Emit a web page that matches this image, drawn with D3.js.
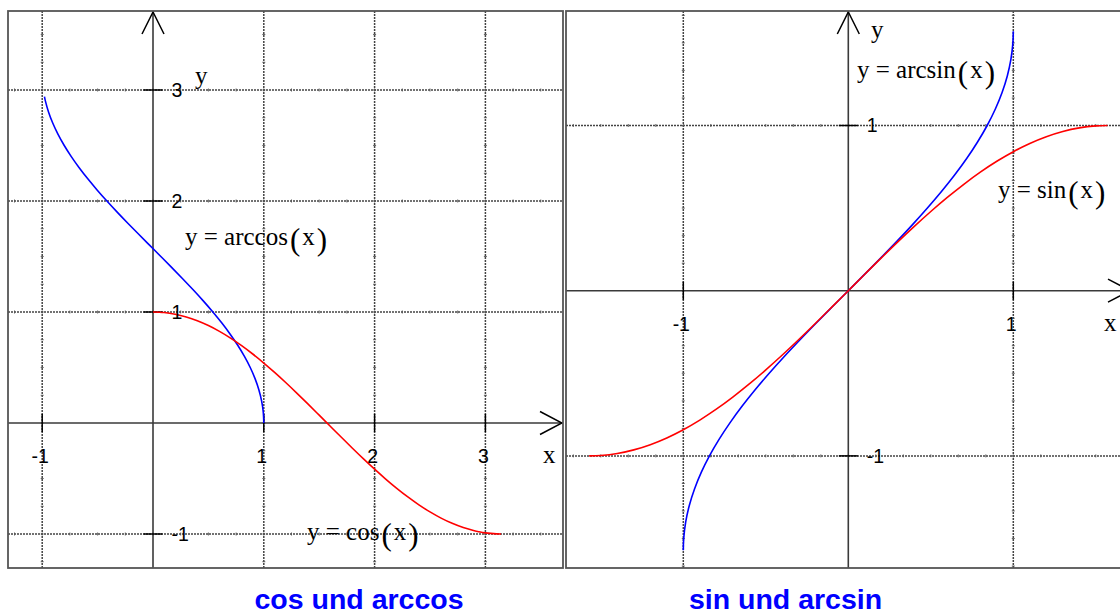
<!DOCTYPE html>
<html>
<head>
<meta charset="utf-8">
<script src="https://cdn.jsdelivr.net/npm/d3@7"></script>
<style>
  html, body { margin: 0; padding: 0; background: #fff; }
  svg { display: block; }
</style>
</head>
<body>
<script>
// Angle samples (radians) with their cosine values; cos on [0, pi]
const cosT = [0, 0.1, 0.2, 0.3, 0.4, 0.5, 0.6, 0.7, 0.8, 0.9, 1.0, 1.1, 1.2, 1.3, 1.4, 1.5,
              1.6, 1.7, 1.8, 1.9, 2.0, 2.1, 2.2, 2.3, 2.4, 2.5, 2.6, 2.7, 2.8, 2.9, 2.94, 3.0, 3.1, 3.1416];
const cosV = [1, 0.9950, 0.9801, 0.9553, 0.9211, 0.8776, 0.8253, 0.7648, 0.6967, 0.6216, 0.5403,
              0.4536, 0.3624, 0.2675, 0.1700, 0.0707, -0.0292, -0.1288, -0.2272, -0.3233, -0.4161,
              -0.5048, -0.5885, -0.6663, -0.7374, -0.8011, -0.8569, -0.9041, -0.9422, -0.9710,
              -0.9797, -0.9900, -0.9991, -1];

// Angle samples (radians) with their sine values; sin on [-pi/2, pi/2]
const sinT = [-1.5708, -1.5, -1.4, -1.3, -1.2, -1.1, -1.0, -0.9, -0.8, -0.7, -0.6, -0.5, -0.4, -0.3,
              -0.2, -0.1, 0, 0.1, 0.2, 0.3, 0.4, 0.5, 0.6, 0.7, 0.8, 0.9, 1.0, 1.1, 1.2, 1.3, 1.4, 1.5, 1.5708];
const sinV = [-1, -0.9975, -0.9854, -0.9636, -0.9320, -0.8912, -0.8415, -0.7833, -0.7174, -0.6442,
              -0.5646, -0.4794, -0.3894, -0.2955, -0.1987, -0.0998, 0, 0.0998, 0.1987, 0.2955, 0.3894,
              0.4794, 0.5646, 0.6442, 0.7174, 0.7833, 0.8415, 0.8912, 0.9320, 0.9636, 0.9854, 0.9975, 1];

// arccos is drawn down to x = -0.98 (angle 2.94)
const acosMaxT = 2.94;

// Tick values
const leftXTicks = [-1, 1, 2, 3];
const leftYTicks = [-1, 1, 2, 3];
const rightXTicks = [-1, 1];
const rightYTicks = [-1, 1];

// Captions and curve labels
const titles = ["cos und arccos", "sin und arcsin"];
const leftCurveNames = ["arccos", "cos"];
const rightCurveNames = ["arcsin", "sin"];

const BLUE = "#0000ff", RED = "#ff0000";

// ---------- derived point lists ----------
const cosPts = cosT.map((t, i) => [t, cosV[i]]);
const acosPts = cosT.map((t, i) => [cosV[i], t]).filter(p => p[1] <= acosMaxT + 1e-9);
const sinPts = sinT.map((t, i) => [t, sinV[i]]);
const asinPts = sinT.map((t, i) => [sinV[i], t]);

const W = 1120, H = 616;
const svg = d3.select("body").append("svg")
  .attr("width", W).attr("height", H)
  .attr("viewBox", `0 0 ${W} ${H}`);

const SANS = '"Liberation Sans", Arial, Helvetica, sans-serif';
const SERIF = '"Liberation Serif", "Times New Roman", serif';
const MATH_SIZE = 25, PAREN_SIZE = 31;

const panels = [
  {
    id: "left",
    box: { x0: 8, y0: 11, x1: 563, y1: 568 },
    xDomain: [-1.3087, 3.7004],
    yDomain: [-1.3063, 3.7117],
    xTicks: leftXTicks, yTicks: leftYTicks,
    minorStep: 0.25,
    curves: [
      { pts: acosPts, color: BLUE },
      { pts: cosPts, color: RED }
    ],
    yName: { x: 195, y: 84 },
    xName: { x: 543, y: 463 },
    fnLabels: [
      { name: leftCurveNames[0], x: 185, y: 245 },
      { name: leftCurveNames[1], x: 307, y: 540 }
    ],
    title: { text: titles[0], x: 359, y: 609 }
  },
  {
    id: "right",
    box: { x0: 566, y0: 11, x1: 1131, y1: 568 },
    xDomain: [-1.7109, 1.7133],
    yDomain: [-1.6786, 1.6931],
    xTicks: rightXTicks, yTicks: rightYTicks,
    minorStep: 1 / 6,
    curves: [
      { pts: asinPts, color: BLUE },
      { pts: sinPts, color: RED }
    ],
    yName: { x: 871, y: 38 },
    xName: { x: 1104, y: 331 },
    fnLabels: [
      { name: rightCurveNames[0], x: 857, y: 78 },
      { name: rightCurveNames[1], x: 998, y: 198 }
    ],
    title: { text: titles[1], x: 785.5, y: 609 }
  }
];

function mathLabel(g, x, y, fn) {
  const t = g.append("text")
    .attr("x", x).attr("y", y)
    .attr("font-family", SERIF)
    .attr("font-size", MATH_SIZE)
    .attr("fill", "#000");
  t.append("tspan").text("y = " + fn);
  t.append("tspan").attr("font-size", PAREN_SIZE).attr("dx", 2).attr("dy", 5).text("(");
  t.append("tspan").attr("font-size", MATH_SIZE).attr("dx", 2).attr("dy", -5).text("x");
  t.append("tspan").attr("font-size", PAREN_SIZE).attr("dx", 2).attr("dy", 5).text(")");
}

panels.forEach(p => {
  const b = p.box;
  const x = d3.scaleLinear().domain(p.xDomain).range([b.x0, b.x1]);
  const y = d3.scaleLinear().domain(p.yDomain).range([b.y1, b.y0]);

  const clipId = "clip-" + p.id;
  svg.append("clipPath").attr("id", clipId)
    .append("rect").attr("x", b.x0).attr("y", b.y0)
    .attr("width", b.x1 - b.x0).attr("height", b.y1 - b.y0);

  const g = svg.append("g").attr("clip-path", `url(#${clipId})`);

  // dotted grid lines at the integer ticks
  const grid = g.append("g").attr("class", "grid")
    .attr("stroke", "#444").attr("stroke-width", 1.5)
    .attr("stroke-dasharray", "2,1");
  p.xTicks.forEach(v => {
    grid.append("line").attr("x1", x(v)).attr("x2", x(v))
      .attr("y1", b.y0).attr("y2", b.y1);
  });
  p.yTicks.forEach(v => {
    grid.append("line").attr("y1", y(v)).attr("y2", y(v))
      .attr("x1", b.x0).attr("x2", b.x1);
  });

  // small marks along the grid lines
  const marks = g.append("g").attr("stroke", "#555").attr("stroke-width", 0.9);
  const xs = d3.range(Math.ceil(p.xDomain[0] / p.minorStep), Math.floor(p.xDomain[1] / p.minorStep) + 1)
    .map(k => k * p.minorStep);
  const ys = d3.range(Math.ceil(p.yDomain[0] / p.minorStep), Math.floor(p.yDomain[1] / p.minorStep) + 1)
    .map(k => k * p.minorStep);
  p.yTicks.forEach(v => {
    xs.forEach(u => {
      marks.append("line").attr("x1", x(u)).attr("x2", x(u))
        .attr("y1", y(v) - 1.5).attr("y2", y(v) + 1.5);
    });
  });
  p.xTicks.forEach(v => {
    ys.forEach(u => {
      marks.append("line").attr("y1", y(u)).attr("y2", y(u))
        .attr("x1", x(v) - 1.5).attr("x2", x(v) + 1.5);
    });
  });

  // solid coordinate axes
  const axes = g.append("g").attr("stroke", "#3a3a3a").attr("stroke-width", 1.6);
  axes.append("line").attr("x1", b.x0).attr("x2", b.x1).attr("y1", y(0)).attr("y2", y(0));
  axes.append("line").attr("x1", x(0)).attr("x2", x(0)).attr("y1", b.y0).attr("y2", b.y1);

  // tick marks crossing the axes
  const ticks = g.append("g").attr("stroke", "#000").attr("stroke-width", 1.5);
  p.xTicks.forEach(v => {
    ticks.append("line").attr("x1", x(v)).attr("x2", x(v))
      .attr("y1", y(0) - 9).attr("y2", y(0) + 9);
  });
  p.yTicks.forEach(v => {
    ticks.append("line").attr("y1", y(v)).attr("y2", y(v))
      .attr("x1", x(0) - 9.5).attr("x2", x(0) + 9.5);
  });

  // function curves
  const line = d3.line()
    .x(d => x(d[0])).y(d => y(d[1]))
    .curve(d3.curveCatmullRom.alpha(0.5));
  p.curves.forEach(c => {
    g.append("path").datum(c.pts)
      .attr("d", line)
      .attr("fill", "none")
      .attr("stroke", c.color)
      .attr("stroke-width", 1.6);
  });

  // open arrow heads at the axis ends
  const arrows = g.append("g").attr("fill", "none").attr("stroke", "#000").attr("stroke-width", 1.5);
  const xTip = b.x1 - 1, yTip = b.y0 + 1;
  arrows.append("path")
    .attr("d", `M${xTip - 22},${y(0) - 11.5}L${xTip},${y(0)}L${xTip - 22},${y(0) + 11.5}`);
  arrows.append("path")
    .attr("d", `M${x(0) - 11},${yTip + 22}L${x(0)},${yTip}L${x(0) + 11},${yTip + 22}`);

  // tick labels
  const tl = g.append("g").attr("font-family", SANS).attr("font-size", 19.5).attr("fill", "#000");
  p.xTicks.forEach(v => {
    tl.append("text").attr("x", x(v) - 2).attr("y", y(0) + 40)
      .attr("text-anchor", "middle").text(v);
  });
  p.yTicks.forEach(v => {
    tl.append("text").attr("x", x(0) + 18.5).attr("y", y(v) + 7)
      .attr("text-anchor", "start").text(v);
  });

  // axis names
  g.append("text").attr("x", p.yName.x).attr("y", p.yName.y)
    .attr("font-family", SERIF).attr("font-size", MATH_SIZE).text("y");
  g.append("text").attr("x", p.xName.x).attr("y", p.xName.y)
    .attr("font-family", SERIF).attr("font-size", MATH_SIZE).text("x");

  // curve labels
  p.fnLabels.forEach(l => mathLabel(g, l.x, l.y, l.name));

  // panel frame
  svg.append("rect")
    .attr("x", b.x0).attr("y", b.y0)
    .attr("width", b.x1 - b.x0).attr("height", b.y1 - b.y0)
    .attr("fill", "none").attr("stroke", "#555").attr("stroke-width", 1.8);

  // caption
  svg.append("text")
    .attr("x", p.title.x).attr("y", p.title.y)
    .attr("text-anchor", "middle")
    .attr("font-family", SANS).attr("font-weight", "bold")
    .attr("font-size", 28.5).attr("fill", BLUE)
    .text(p.title.text);
});
</script>
</body>
</html>
